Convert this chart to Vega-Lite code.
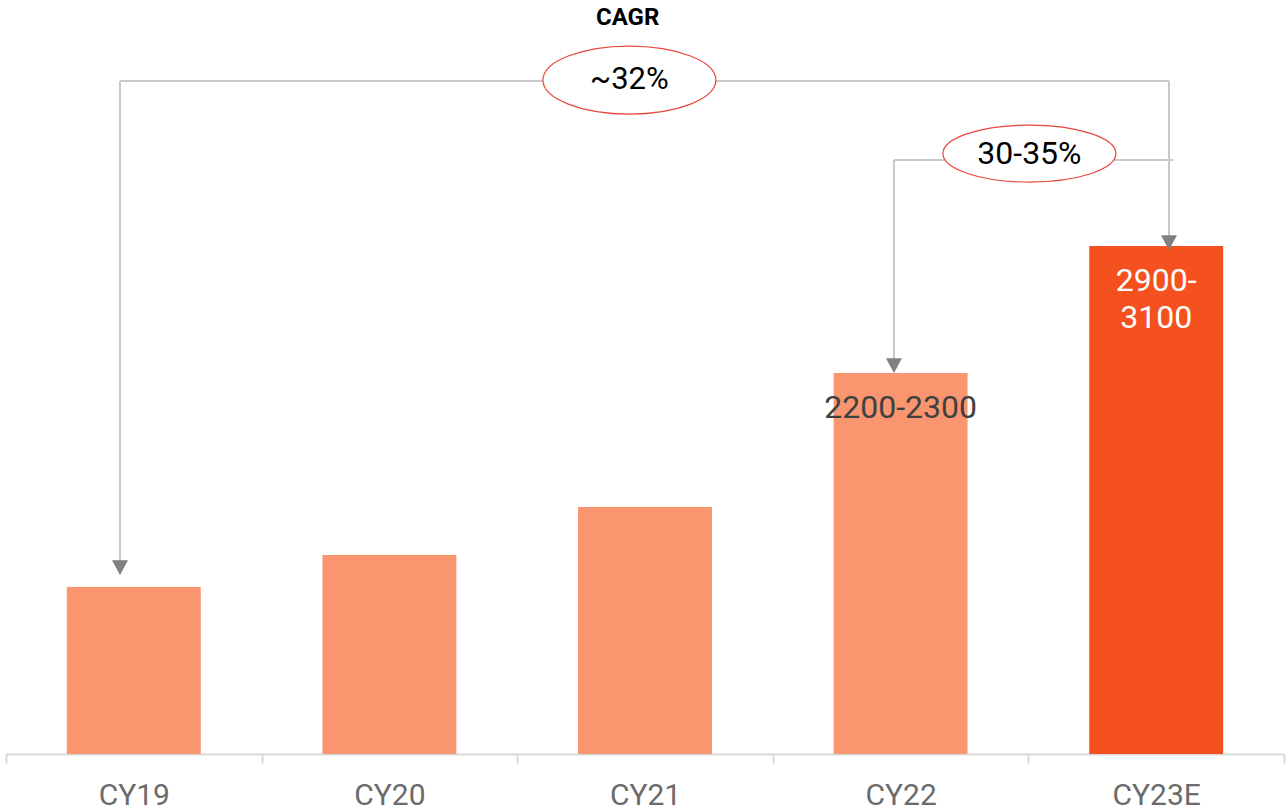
{
  "$schema": "https://vega.github.io/schema/vega-lite/v6.json",
  "width": 1278,
  "height": 754,
  "autosize": {"type": "none"},
  "padding": {"left": 6, "top": 0, "right": 4, "bottom": 56},
  "background": "white",
  "config": {
    "view": {"stroke": null},
    "font": "Roboto",
    "text": {"font": "Roboto"}
  },
  "layer": [
    {
      "data": {
        "values": [
          {"year": "CY19", "value": 986, "label": "", "kind": "Actual"},
          {"year": "CY20", "value": 1175, "label": "", "kind": "Actual"},
          {"year": "CY21", "value": 1459, "label": "", "kind": "Actual"},
          {"year": "CY22", "value": 2250, "label": "2200-2300", "kind": "Actual"},
          {"year": "CY23E", "value": 3000, "label": "2900-\n3100", "kind": "Estimate"}
        ]
      },
      "encoding": {
        "x": {
          "field": "year",
          "type": "nominal",
          "sort": null,
          "scale": {"paddingInner": 0, "paddingOuter": 0},
          "axis": {
            "title": null,
            "labelAngle": 0,
            "labelFont": "Roboto",
            "labelFontSize": 30,
            "labelColor": "#6b6b6b",
            "labelPadding": 17,
            "domainColor": "#d9d9d9",
            "domainWidth": 2,
            "tickColor": "#d9d9d9",
            "tickWidth": 2,
            "tickSize": 9,
            "tickBand": "extent"
          }
        },
        "y": {
          "field": "value",
          "type": "quantitative",
          "scale": {"domain": [0, 4453], "nice": false},
          "axis": null
        }
      },
      "layer": [
        {
          "mark": {"type": "bar", "width": {"band": 0.524}},
          "encoding": {
            "color": {
              "field": "kind",
              "type": "nominal",
              "scale": {"domain": ["Actual", "Estimate"], "range": ["#F9956F", "#F4511E"]},
              "legend": null
            }
          }
        },
        {
          "mark": {
            "type": "text",
            "baseline": "top",
            "align": "center",
            "fontSize": 32,
            "dy": 20,
            "lineBreak": "\n",
            "lineHeight": 37
          },
          "encoding": {
            "text": {"field": "label"},
            "color": {
              "condition": {"test": "datum.kind === 'Estimate'", "value": "#ffffff"},
              "value": "#404040"
            }
          }
        }
      ]
    },
    {
      "encoding": {
        "x": {"field": "x", "type": "quantitative", "scale": {"domain": [0, 5], "nice": false, "zero": false}, "axis": null},
        "y": {"field": "y", "type": "quantitative", "scale": {"domain": [0, 4453], "nice": false}, "axis": null}
      },
      "layer": [
        {
          "data": {
            "values": [
              {"x": 0.446, "x2": 4.55, "y": 3974, "y2": 3974},
              {"x": 0.446, "x2": 0.446, "y": 3974, "y2": 1070},
              {"x": 4.55, "x2": 4.55, "y": 3974, "y2": 2990},
              {"x": 3.474, "x2": 4.566, "y": 3508, "y2": 3508},
              {"x": 3.474, "x2": 3.474, "y": 3508, "y2": 2260}
            ]
          },
          "mark": {"type": "rule", "color": "#c8c8c8", "strokeWidth": 2},
          "encoding": {
            "x2": {"field": "x2"},
            "y2": {"field": "y2"}
          }
        },
        {
          "data": {
            "values": [
              {"x": 0.446, "y": 1057},
              {"x": 4.55, "y": 2976},
              {"x": 3.474, "y": 2250}
            ]
          },
          "mark": {
            "type": "point",
            "shape": "M -1 -1.85 L 1 -1.85 L 0 0 Z",
            "size": 256,
            "filled": true,
            "color": "#808080",
            "opacity": 1
          }
        },
        {
          "data": {"values": [{"x": 2.439, "y": 3980, "t": "~32%"}]},
          "layer": [
            {
              "mark": {
                "type": "point",
                "shape": "M -1 0 C -1 -0.217 -0.552 -0.393 0 -0.393 C 0.552 -0.393 1 -0.217 1 0 C 1 0.217 0.552 0.393 0 0.393 C -0.552 0.393 -1 0.217 -1 0 Z",
                "size": 29929,
                "filled": true,
                "fill": "#ffffff",
                "stroke": "#E8463C",
                "strokeWidth": 1.2,
                "opacity": 1
              }
            },
            {
              "mark": {"type": "text", "fontSize": 31, "color": "#000000", "baseline": "middle", "align": "center"},
              "encoding": {"text": {"field": "t"}}
            }
          ]
        },
        {
          "data": {"values": [{"x": 4.004, "y": 3546, "t": "30-35%"}]},
          "layer": [
            {
              "mark": {
                "type": "point",
                "shape": "M -1 0 C -1 -0.182 -0.552 -0.329 0 -0.329 C 0.552 -0.329 1 -0.182 1 0 C 1 0.182 0.552 0.329 0 0.329 C -0.552 0.329 -1 0.182 -1 0 Z",
                "size": 29929,
                "filled": true,
                "fill": "#ffffff",
                "stroke": "#E8463C",
                "strokeWidth": 1.2,
                "opacity": 1
              }
            },
            {
              "mark": {"type": "text", "fontSize": 32, "color": "#000000", "baseline": "middle", "align": "center"},
              "encoding": {"text": {"field": "t"}}
            }
          ]
        },
        {
          "data": {"values": [{"x": 2.432, "y": 4346, "t": "CAGR"}]},
          "mark": {"type": "text", "fontSize": 24, "fontWeight": "bold", "color": "#000000", "baseline": "middle", "align": "center"},
          "encoding": {"text": {"field": "t"}}
        }
      ]
    }
  ],
  "resolve": {"scale": {"x": "independent"}}
}
